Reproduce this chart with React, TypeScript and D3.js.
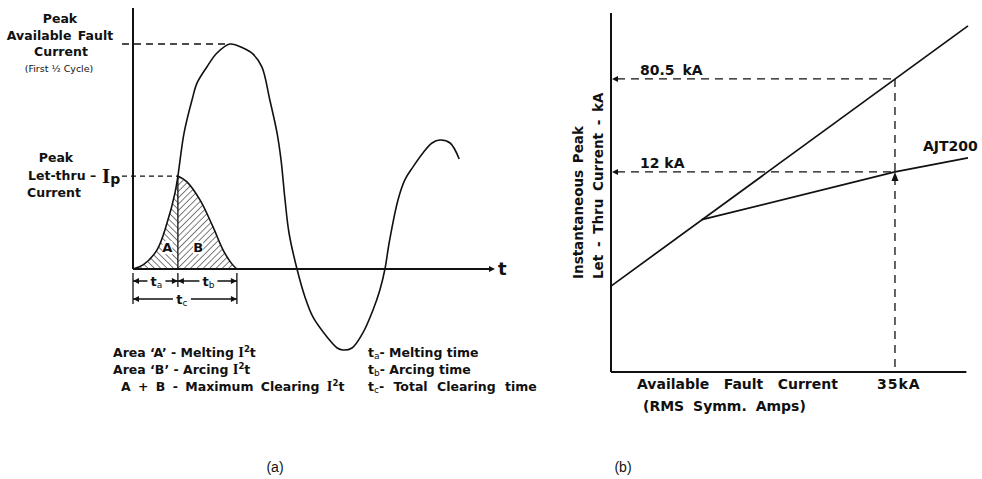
import React from 'react';
import * as d3 from 'd3';

// ---------- Panel (a): fault current waveform (t in ms, current in % of peak available) ----------
const waveT = [0, 0.28, 0.66, 0.94, 1.16, 1.24, 1.41, 1.63, 1.77, 2.04, 2.32, 2.68, 3.04, 3.31, 3.56, 3.78, 3.98, 4.09, 4.2, 4.31, 4.53, 4.75, 4.97, 5.36, 5.64, 5.8, 6.05, 6.35, 6.63, 6.82, 6.96, 7.08, 7.32, 7.51, 7.73, 8.01, 8.26, 8.48, 8.76, 9.01];
const waveI = [0, 1.8, 8.4, 20.4, 33.8, 41.3, 60.4, 75.1, 82.7, 89.8, 96.0, 100, 98.2, 95.6, 89.8, 75.1, 60.4, 48.4, 30.7, 16.0, 0, -12.4, -21.3, -30.2, -35.1, -36.0, -35.1, -28.4, -18.2, -9.3, 0, 12.0, 30.7, 39.6, 45.3, 51.6, 56.0, 57.3, 56.0, 48.9];
// let-thru current after melting (arcing part, area B)
const arcT = [1.24, 1.49, 1.85, 2.21, 2.49, 2.72, 2.87];
const arcI = [41.3, 38.7, 30.7, 18.7, 8.4, 2.5, 0];
const meltingTime = 1.24; // ta
const clearingTime = 2.87; // tc
const peakLetThru = 41.3; // Ip
const peakAvailable = 100;
const timeAxisEnd = 10;
const currentAxisTop = 116;

const legendLeft = ['Area ‘A’ - Melting ', 'Area ‘B’ - Arcing ', 'A + B - Maximum Clearing '];
const legendRightSub = ['a', 'b', 'c'];
const legendRightText = ['- Melting time', '- Arcing time', '- Total Clearing time'];

// ---------- Panel (b): peak let-thru chart (kA) ----------
const availableKA = [0, 44];
const availablePeakKA = [1.16, 238];
const ajtKA = [11.2, 35, 44];
const ajtPeakKA = [4.52, 12, 16];
const ratedKA = 35;
const peakAvailKA = 80.5;
const peakLetKA = 12;
const xAxisMaxKA = 43.8;
const yDomainKA = [0.2, 310];

const SANS = '"DejaVu Sans", Verdana, sans-serif';
const ARIAL = '"Liberation Sans", Arial, sans-serif';
const SERIF = '"Liberation Serif", "Times New Roman", serif';

export default function App() {
  // scales panel a
  const xa = d3.scaleLinear().domain([0, 10]).range([133, 495]);
  const ya = d3.scaleLinear().domain([0, 100]).range([269, 44]);
  const wave = d3.range(waveT.length).map((i) => [waveT[i], waveI[i]] as [number, number]);
  const arc = d3.range(arcT.length).map((i) => [arcT[i], arcI[i]] as [number, number]);
  const lineA = d3
    .line<[number, number]>()
    .x((d) => xa(d[0]))
    .y((d) => ya(d[1]))
    .curve(d3.curveCatmullRom.alpha(0.5));
  const areaGen = d3
    .area<[number, number]>()
    .x((d) => xa(d[0]))
    .y0(ya(0))
    .y1((d) => ya(d[1]))
    .curve(d3.curveCatmullRom.alpha(0.5));
  const regionA = wave.filter((d) => d[0] <= meltingTime);

  // scales panel b
  const xb = d3.scaleLinear().domain([0, 44]).range([611, 968]);
  const yb = d3.scaleLog().domain(yDomainKA).range([372, 13]);
  const avail = availableKA.map((k, i) => [k, availablePeakKA[i]] as [number, number]);
  const ajt = ajtKA.map((k, i) => [k, ajtPeakKA[i]] as [number, number]);
  const lineB = d3
    .line<[number, number]>()
    .x((d) => xb(d[0]))
    .y((d) => yb(d[1]));

  const x0 = xa(0);
  const xta = xa(meltingTime);
  const xtc = xa(clearingTime);
  const yBase = ya(0);
  const dimY1 = yBase + 12;
  const dimY2 = yBase + 30;

  const arrowR = (x: number, y: number) => `M${x},${y} L${x - 6},${y - 3} L${x - 6},${y + 3} Z`;
  const arrowL = (x: number, y: number) => `M${x},${y} L${x + 6},${y - 3} L${x + 6},${y + 3} Z`;

  const xr = xb(ratedKA);
  const yAvail = yb(peakAvailKA);
  const yLet = yb(peakLetKA);
  const xb0 = xb(0);
  const yb0 = yb(yDomainKA[0]);

  const bold = { fontFamily: SANS, fontWeight: 700, fill: '#111' } as const;

  // per-row text spacing for legend
  const leftWordSpacing = [0, 0, 3];
  const leftDx = [0, 0, 8];
  const rightWordSpacing = [0, 0, 5];

  const dimLabels = [
    { x: (x0 + xta) / 2 + 1, y: dimY1, sub: 'a' },
    { x: (xta + xtc) / 2 + 1, y: dimY1, sub: 'b' },
    { x: (x0 + xtc) / 2 - 3, y: dimY2, sub: 'c' },
  ];

  return (
    <svg width={982} height={479} style={{ position: 'absolute', left: 0, top: 0, background: '#fff' }}>
      <defs>
        <pattern id="hatchA" patternUnits="userSpaceOnUse" width={4.5} height={4.5} patternTransform="rotate(-45)">
          <line x1={0} y1={0} x2={0} y2={4.5} stroke="#111" strokeWidth={1.1} />
        </pattern>
        <pattern id="hatchB" patternUnits="userSpaceOnUse" width={4.5} height={4.5} patternTransform="rotate(45)">
          <line x1={0} y1={0} x2={0} y2={4.5} stroke="#111" strokeWidth={1.1} />
        </pattern>
      </defs>

      {/* ================= Panel (a) ================= */}
      <path d={areaGen([...regionA, [meltingTime, 0]]) ?? ''} fill="url(#hatchA)" stroke="none" />
      <path d={areaGen(arc) ?? ''} fill="url(#hatchB)" stroke="none" />
      <path d={lineA(arc) ?? ''} fill="none" stroke="#111" strokeWidth={1.6} />
      <line x1={xta} x2={xta} y1={ya(peakLetThru)} y2={yBase} stroke="#111" strokeWidth={1.3} />

      {/* axes */}
      <line x1={x0} x2={x0} y1={ya(currentAxisTop)} y2={yBase} stroke="#111" strokeWidth={2} />
      <line x1={x0} x2={xa(timeAxisEnd) - 4} y1={yBase} y2={yBase} stroke="#111" strokeWidth={2} />
      <path d={arrowR(xa(timeAxisEnd), yBase)} fill="#111" />
      <text x={xa(timeAxisEnd) + 3} y={yBase} dy="0.36em" style={{ ...bold, fontSize: 18 }}>t</text>

      {/* waveform */}
      <path d={lineA(wave) ?? ''} fill="none" stroke="#111" strokeWidth={1.6} />

      {/* dashed guides */}
      <line x1={x0 - 11} x2={xa(2.68)} y1={ya(peakAvailable)} y2={ya(peakAvailable)} stroke="#111" strokeWidth={1.3} strokeDasharray="7 5" />
      <line x1={x0 - 11} x2={xta} y1={ya(peakLetThru)} y2={ya(peakLetThru)} stroke="#111" strokeWidth={1.3} strokeDasharray="5 4" />

      {/* area labels */}
      {['A', 'B'].map((s, i) => (
        <g key={s}>
          <rect x={xa(i === 0 ? 0.95 : 1.8) - 5} y={ya(7.5) - 11} width={10} height={13} fill="#fff" />
          <text x={xa(i === 0 ? 0.95 : 1.8)} y={ya(7.5)} textAnchor="middle" style={{ ...bold, fontSize: 13 }}>{s}</text>
        </g>
      ))}

      {/* dimension lines */}
      <line x1={x0} x2={x0} y1={yBase + 4} y2={dimY2 + 5} stroke="#111" strokeWidth={1.3} />
      <line x1={xta} x2={xta} y1={yBase + 4} y2={dimY1 + 6} stroke="#111" strokeWidth={1.3} />
      <line x1={xtc} x2={xtc} y1={yBase + 4} y2={dimY2 + 5} stroke="#111" strokeWidth={1.3} />
      <line x1={x0} x2={xtc} y1={dimY1} y2={dimY1} stroke="#111" strokeWidth={1.3} />
      <line x1={x0} x2={xtc} y1={dimY2} y2={dimY2} stroke="#111" strokeWidth={1.3} />
      <path d={arrowL(x0, dimY1)} fill="#111" />
      <path d={arrowR(xta, dimY1)} fill="#111" />
      <path d={arrowL(xta, dimY1)} fill="#111" />
      <path d={arrowR(xtc, dimY1)} fill="#111" />
      <path d={arrowL(x0, dimY2)} fill="#111" />
      <path d={arrowR(xtc, dimY2)} fill="#111" />
      {dimLabels.map((d) => (
        <g key={d.sub}>
          <rect x={d.x - 9} y={d.y - 6} width={18} height={12} fill="#fff" />
          <text x={d.x} y={d.y} dy="0.35em" textAnchor="middle" style={{ ...bold, fontSize: 13 }}>
            t<tspan fontSize={9} fontWeight={400} dy={2}>{d.sub}</tspan>
          </text>
        </g>
      ))}

      {/* left labels */}
      <g style={{ ...bold, fontSize: 12.5 }} textAnchor="middle">
        <text x={60} y={19} dy="0.35em">Peak</text>
        <text x={60} y={36} dy="0.35em" wordSpacing={2}>Available Fault</text>
        <text x={61} y={52} dy="0.35em">Current</text>
        <text x={59} y={69} dy="0.35em" style={{ fontSize: 9.5, fontWeight: 400 }}>(First ½ Cycle)</text>
        <text x={56} y={158} dy="0.35em">Peak</text>
        <text x={54} y={193} dy="0.35em">Current</text>
      </g>
      <text x={28} y={176} dy="0.35em" style={{ ...bold, fontSize: 12.5 }}>Let-thru –</text>
      <text x={102} y={176} dy="0.35em" style={{ fontFamily: SERIF, fontWeight: 700, fontSize: 21, fill: '#111' }}>
        I<tspan fontFamily={SANS} fontSize={14} dy={1}>p</tspan>
      </text>

      {/* legend */}
      {legendLeft.map((s, i) => (
        <text key={i} x={113 + leftDx[i]} y={353 + i * 17} dy="0.35em" wordSpacing={leftWordSpacing[i]} style={{ ...bold, fontSize: 12.5 }}>
          {s}
          <tspan fontFamily={SERIF} fontSize={14.5}>I</tspan>
          <tspan fontSize={8.5} dy={-5}>2</tspan>
          <tspan dy={5}>t</tspan>
        </text>
      ))}
      {legendRightSub.map((sub, i) => (
        <text key={i} x={368} y={353 + i * 17} dy="0.35em" wordSpacing={rightWordSpacing[i]} style={{ ...bold, fontSize: 12.5 }}>
          t<tspan fontSize={9} fontWeight={400} dy={2}>{sub}</tspan>
          <tspan dy={-2}>{legendRightText[i]}</tspan>
        </text>
      ))}

      <text x={275} y={467} dy="0.35em" textAnchor="middle" style={{ fontFamily: ARIAL, fontSize: 14, fill: '#111' }}>(a)</text>
      <text x={623} y={467} dy="0.35em" textAnchor="middle" style={{ fontFamily: ARIAL, fontSize: 14, fill: '#111' }}>(b)</text>

      {/* ================= Panel (b) ================= */}
      <line x1={xb0} x2={xb0} y1={yb(yDomainKA[1])} y2={yb0} stroke="#111" strokeWidth={2} />
      <line x1={xb0} x2={xb(xAxisMaxKA)} y1={yb0} y2={yb0} stroke="#111" strokeWidth={2} />

      <path d={lineB(avail) ?? ''} fill="none" stroke="#111" strokeWidth={1.7} />
      <path d={lineB(ajt) ?? ''} fill="none" stroke="#111" strokeWidth={1.7} />

      <line x1={xb0 + 6} x2={xr} y1={yAvail} y2={yAvail} stroke="#111" strokeWidth={1.3} strokeDasharray="8 6" />
      <line x1={xb0 + 6} x2={xr} y1={yLet} y2={yLet} stroke="#111" strokeWidth={1.3} strokeDasharray="8 6" />
      <line x1={xr} x2={xr} y1={yAvail} y2={yb0} stroke="#111" strokeWidth={1.3} strokeDasharray="8 6" />
      <path d={arrowL(xb0 + 1, yAvail)} fill="#111" />
      <path d={arrowL(xb0 + 1, yLet)} fill="#111" />
      <path d={`M${xr},${yLet} L${xr - 3.5},${yLet + 9} L${xr + 3.5},${yLet + 9} Z`} fill="#111" />

      <g style={{ ...bold, fontSize: 14 }}>
        <text x={640} y={70} dy="0.35em" wordSpacing={3}>{peakAvailKA} kA</text>
        <text x={640} y={163} dy="0.35em">{peakLetKA} kA</text>
        <text x={923} y={146} dy="0.35em">AJT200</text>
        <text x={877} y={384} dy="0.35em" letterSpacing={1}>{ratedKA}kA</text>
        <text x={637} y={384} dy="0.35em" wordSpacing={9.5}>Available Fault Current</text>
        <text x={643} y={406} dy="0.35em" wordSpacing={4}>(RMS Symm. Amps)</text>
        <text transform="translate(578,279) rotate(-90)" dy="0.35em" style={{ fontSize: 13.5 }} wordSpacing={2}>Instantaneous Peak</text>
        <text transform="translate(598,279) rotate(-90)" dy="0.35em" style={{ fontSize: 13.5 }} wordSpacing={3}>Let - Thru Current - kA</text>
      </g>
    </svg>
  );
}
